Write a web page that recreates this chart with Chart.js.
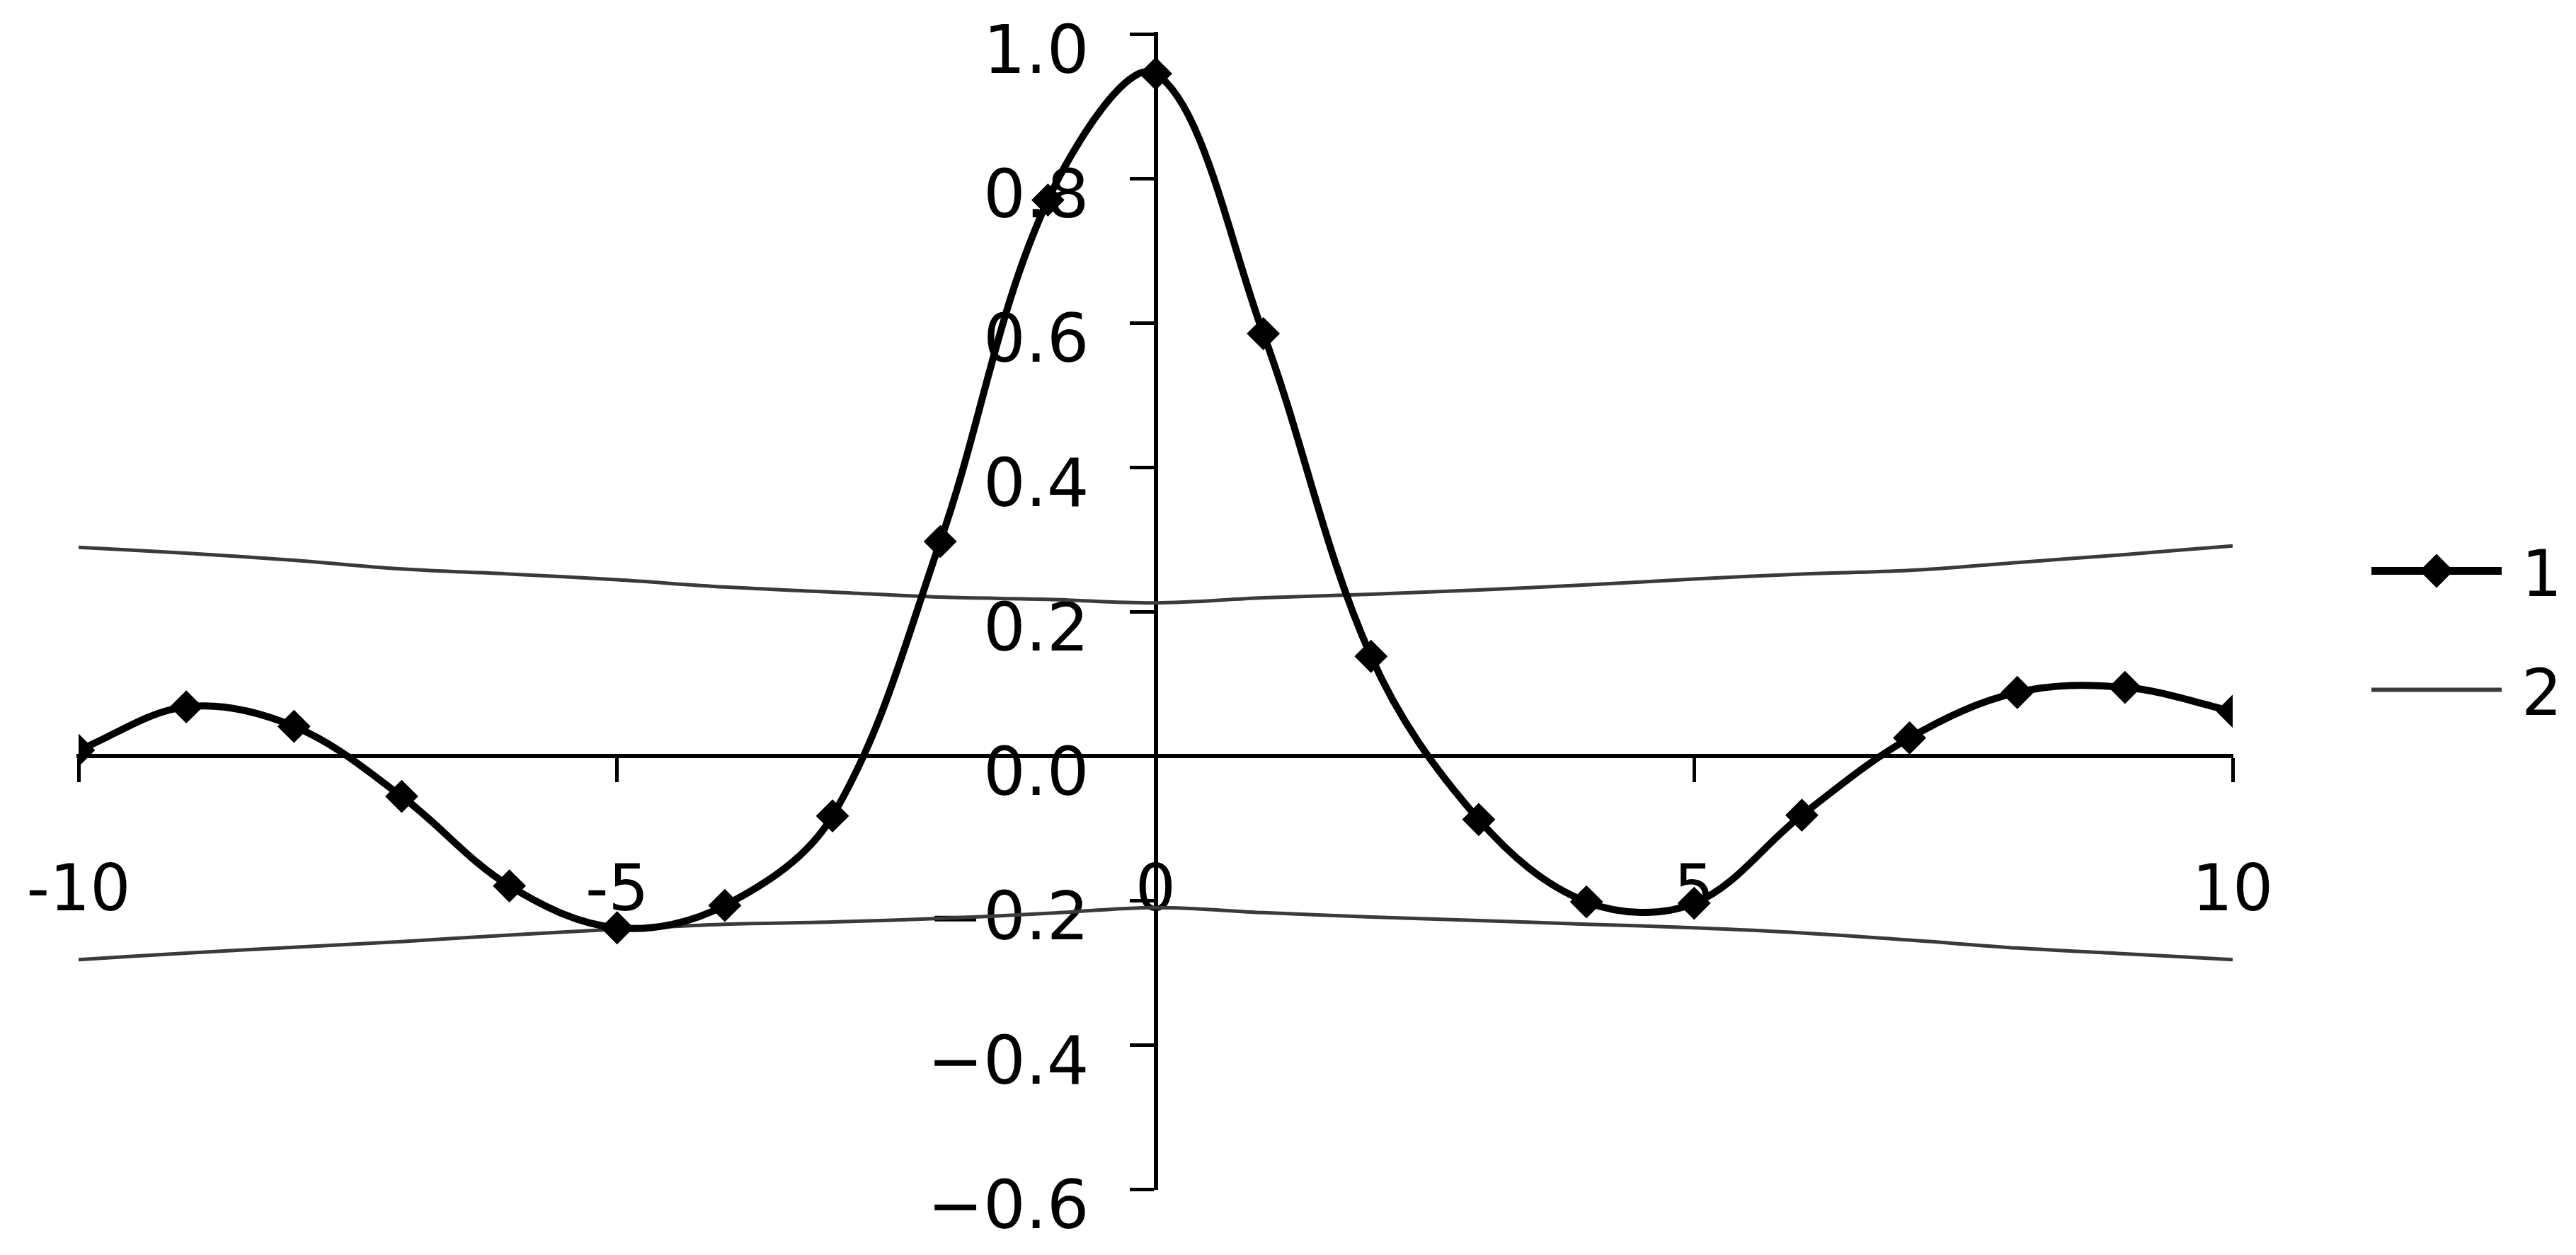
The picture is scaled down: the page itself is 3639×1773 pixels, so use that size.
<!DOCTYPE html>
<html>
<head>
<meta charset="utf-8">
<title>Series 1 and 2</title>
<script src="https://cdn.jsdelivr.net/npm/chart.js@4/dist/chart.umd.min.js"></script>
<style>
  html, body { margin: 0; padding: 0; background: #fff; }
  #chart { display: block; }
</style>
</head>
<body>
<canvas id="chart" width="3639" height="1773"></canvas>
<script>
// values
const xValues = [-10, -9, -8, -7, -6, -5, -4, -3, -2, -1, 0, 1, 2, 3, 4, 5, 6, 7, 8, 9, 10];
const series1 = [0.008, 0.068, 0.041, -0.056, -0.180, -0.238, -0.207, -0.083, 0.297, 0.770, 0.945,
  0.585, 0.138, -0.088, -0.202, -0.204, -0.082, 0.025, 0.088, 0.095, 0.062];
const upperBound = [0.289, 0.281, 0.271, 0.259, 0.252, 0.244, 0.234, 0.227, 0.220, 0.217, 0.212,
  0.219, 0.224, 0.230, 0.237, 0.245, 0.252, 0.257, 0.268, 0.279, 0.291];
const lowerBound = [-0.282, -0.273, -0.265, -0.257, -0.248, -0.240, -0.233, -0.230, -0.225, -0.218, -0.210,
  -0.217, -0.223, -0.228, -0.233, -0.238, -0.245, -0.255, -0.266, -0.274, -0.282];
const seriesNames = ["1", "2"];
const xTicks = [-10, -5, 0, 5, 10];
const yTicks = [-0.6, -0.4, -0.2, 0.0, 0.2, 0.4, 0.6, 0.8, 1.0];

const FONT = "'DejaVu Sans', Verdana, sans-serif";

// series 2 is one series: upper curve, a gap, then lower curve
const series2Points = xValues.map((x, i) => ({ x: x, y: upperBound[i] }))
  .concat([{ x: 10, y: null }])
  .concat(xValues.map((x, i) => ({ x: x, y: lowerBound[i] })));

// labels on a centred y axis sit right on the axis line, the spaces push them off it
function yLabel(v) {
  const txt = Math.abs(v) < 1e-9 ? "0.0" : v.toFixed(1).replace("-", "\u2212");
  return txt + "\u2002\u2002";
}

// the axes cross in the middle, so they should not eat into the plot margins
function noPadding(scale) {
  scale.paddingLeft = 0;
  scale.paddingRight = 0;
  scale.paddingTop = 0;
  scale.paddingBottom = 0;
}

// legend on the right: line sample (with marker) and name
const sideLegend = {
  id: "sideLegend",
  afterDraw(chart) {
    const ctx = chart.ctx;
    const area = chart.chartArea;
    const mid = chart.height / 2;
    const rows = [mid - 80, mid + 88];
    const x0 = area.right + 196;
    const x1 = area.right + 380;
    ctx.save();
    chart.data.datasets.forEach((ds, i) => {
      const y = rows[i];
      ctx.strokeStyle = ds.borderColor;
      ctx.lineWidth = ds.borderWidth + 1;
      ctx.beginPath();
      ctx.moveTo(x0, y);
      ctx.lineTo(x1, y);
      ctx.stroke();
      if (ds.pointRadius > 0) {
        const cx = (x0 + x1) / 2;
        const r = ds.pointRadius + 2;
        ctx.fillStyle = ds.pointBackgroundColor;
        ctx.beginPath();
        ctx.moveTo(cx - r, y);
        ctx.lineTo(cx, y - r);
        ctx.lineTo(cx + r, y);
        ctx.lineTo(cx, y + r);
        ctx.closePath();
        ctx.fill();
      }
      ctx.fillStyle = "#000";
      ctx.font = "90px " + FONT;
      ctx.textAlign = "left";
      ctx.textBaseline = "middle";
      ctx.fillText(ds.label, area.right + 408, y + 12);
    });
    ctx.restore();
  }
};

new Chart(document.getElementById("chart"), {
  type: "line",
  data: {
    datasets: [
      {
        label: seriesNames[0],
        data: xValues.map((x, i) => ({ x: x, y: series1[i] })),
        borderColor: "#000",
        borderWidth: 10,
        tension: 0.35,
        pointStyle: "rectRot",
        pointRadius: 22,
        pointBackgroundColor: "#000",
        pointBorderColor: "#000",
        pointBorderWidth: 2,
        fill: false
      },
      {
        label: seriesNames[1],
        data: series2Points,
        borderColor: "#3a3a3a",
        borderWidth: 5,
        tension: 0.35,
        pointRadius: 0,
        spanGaps: false,
        fill: false
      }
    ]
  },
  options: {
    responsive: false,
    animation: false,
    devicePixelRatio: 1,
    layout: { padding: { left: 111, right: 485, top: 48, bottom: 93 } },
    plugins: {
      legend: { display: false },
      tooltip: { enabled: false }
    },
    scales: {
      x: {
        type: "linear",
        position: { y: 0 },
        min: -10,
        max: 10,
        afterBuildTicks: s => { s.ticks = xTicks.map(v => ({ value: v })); },
        afterFit: noPadding,
        grid: { drawOnChartArea: false, tickLength: 34, tickColor: "#000", tickWidth: 5 },
        border: { color: "#000", width: 6 },
        ticks: {
          color: "#000",
          font: { family: FONT, size: 90 },
          padding: 107,
          maxRotation: 0,
          autoSkip: false,
          callback: v => String(v)
        }
      },
      y: {
        type: "linear",
        position: { x: 0 },
        min: -0.6,
        max: 1.0,
        afterBuildTicks: s => { s.ticks = yTicks.map(v => ({ value: v })); },
        afterFit: noPadding,
        grid: { drawOnChartArea: false, tickLength: 34, tickColor: "#000", tickWidth: 5 },
        border: { color: "#000", width: 6 },
        ticks: {
          color: "#000",
          font: { family: FONT, size: 94, lineHeight: 1 },
          padding: 50,
          labelOffset: 31,
          autoSkip: false,
          callback: v => yLabel(v)
        }
      }
    }
  },
  plugins: [sideLegend]
});
</script>
</body>
</html>
